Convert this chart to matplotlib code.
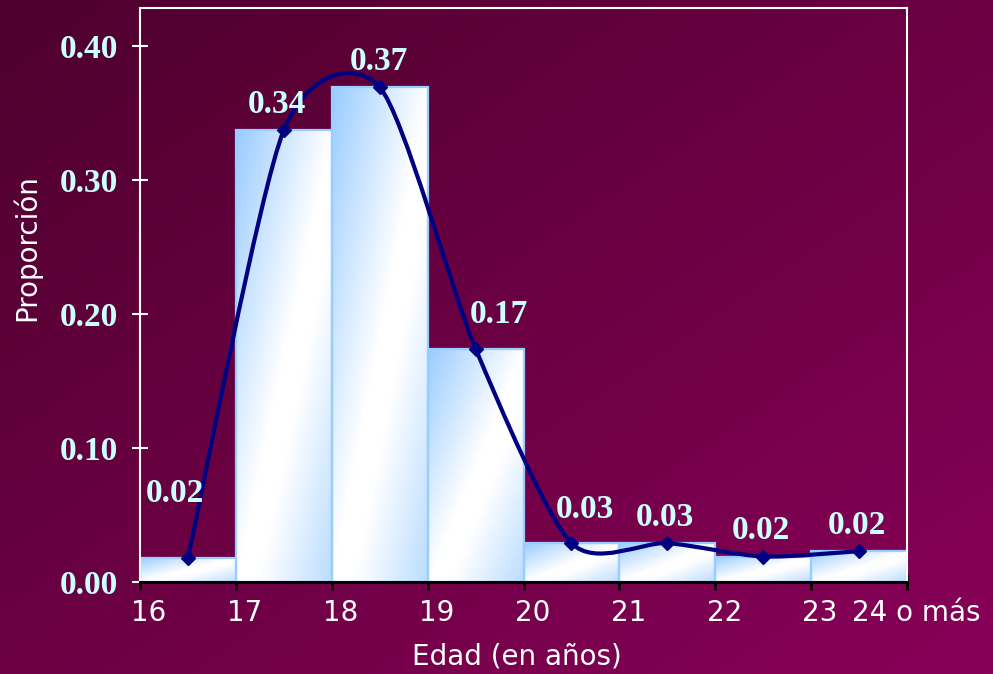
import numpy as np
import matplotlib
matplotlib.use('Agg')
import matplotlib.pyplot as plt
from matplotlib.colors import LinearSegmentedColormap
from matplotlib.path import Path
from matplotlib.patches import PathPatch
from matplotlib import transforms

# datos
edades = [16, 17, 18, 19, 20, 21, 22, 23]
proporcion = [0.018, 0.337, 0.369, 0.174, 0.029, 0.029, 0.019, 0.023]
etiquetas = ['0.02', '0.34', '0.37', '0.17', '0.03', '0.03', '0.02', '0.02']
xticks = [16, 17, 18, 19, 20, 21, 22, 23, 24]
xtick_labels = ['16', '17', '18', '19', '20', '21', '22', '23', '24 o más']
yticks = [0.0, 0.1, 0.2, 0.3, 0.4]

serif = ['Liberation Serif', 'DejaVu Serif']
cian = '#CCFFFF'

fig = plt.figure(figsize=(9.93, 6.74), dpi=100)

# fondo degradado
bg = fig.add_axes([0, 0, 1, 1], zorder=-10)
xx, yy = np.meshgrid(np.linspace(0, 1, 200), np.linspace(0, 1, 200))
t = (xx + yy) / 2
fondo = LinearSegmentedColormap.from_list('fondo', ['#4E002E', '#880058'])
bg.imshow(t, cmap=fondo, aspect='auto', extent=[0, 1, 1, 0])
bg.axis('off')

ax = fig.add_axes([0.141, 0.1365, 0.7724, 0.8516])
ax.set_facecolor('none')

# barras con degradado
barcmap = LinearSegmentedColormap.from_list(
    'barra', [(0, '#99CCFF'), (0.5, '#FFFFFF'), (0.62, '#FFFFFF'), (1, '#BBDDFF')])
u, v = np.meshgrid(np.linspace(0, 1, 100), np.linspace(1, 0, 100))
grad = (u + (1 - v)) / 2
bars = ax.bar(edades, proporcion, width=1, align='edge', facecolor='none',
              edgecolor='#99CCFF', linewidth=1.6, zorder=3)
for b, x0, h in zip(bars, edades, proporcion):
    im = ax.imshow(grad, cmap=barcmap, vmin=0, vmax=1, aspect='auto',
                   extent=[x0, x0 + 1, 0, h], zorder=2, interpolation='bilinear')
    im.set_clip_path(b)
ax.set_xlim(16, 24)
ax.set_ylim(0, 0.428)

# linea suavizada (bezier)
k = 1 / 8
xm = np.array(edades) + 0.5
ym = np.array(proporcion)
pts = np.column_stack([xm, ym])
ext = np.vstack([pts[0], pts, pts[-1]])
verts = [tuple(pts[0])]
codes = [Path.MOVETO]
for i in range(len(pts) - 1):
    p0, p1, p2, p3 = ext[i], ext[i + 1], ext[i + 2], ext[i + 3]
    c1 = p1 + (p2 - p0) * k
    c2 = p2 - (p3 - p1) * k
    verts += [tuple(c1), tuple(c2), tuple(p2)]
    codes += [Path.CURVE4] * 3
ax.add_patch(PathPatch(Path(verts, codes), facecolor='none', edgecolor='#000080',
                       linewidth=3, zorder=5, capstyle='round', joinstyle='round'))
ax.plot(xm, ym, linestyle='none', marker='D', markersize=7, color='#000080', zorder=6)

# etiquetas de datos (desplazamiento en pixeles)
desp = [(-13, 67), (-7, 29), (-1, 29), (23, 37), (13, 37), (-2, 29), (-2, 29), (-2, 29)]
for x, y, s, (dx, dy) in zip(xm, ym, etiquetas, desp):
    ax.annotate(s, (x, y), xytext=(dx * 0.72, (dy - 3) * 0.72), textcoords='offset points',
                ha='center', va='center', fontsize=24, fontweight='bold',
                family=serif, color=cian, zorder=7)

# ejes
for side in ['left', 'top', 'right']:
    ax.spines[side].set_color('white')
    ax.spines[side].set_linewidth(1.5)
ax.spines['bottom'].set_color('black')
ax.spines['bottom'].set_linewidth(2.2)
for sp in ax.spines.values():
    sp.set_zorder(8)

ax.set_yticks(yticks)
ax.set_yticklabels(['%.2f' % y for y in yticks], fontsize=24, fontweight='bold',
                   family=serif, color=cian)
ax.tick_params(axis='y', direction='inout', length=12, width=1.5, color='white', pad=10)

ax.set_xticks(xticks)
ax.set_xticklabels(xtick_labels, fontsize=20, color='white', family='DejaVu Sans')
ax.tick_params(axis='x', direction='inout', length=11, width=2, color='black', pad=7)
off = transforms.ScaledTranslation(9 / 100, 0, fig.dpi_scale_trans)
for lab in ax.get_xticklabels():
    lab.set_transform(lab.get_transform() + off)

fig.text(517 / 993, 1 - 657 / 674, 'Edad (en años)', ha='center', va='center',
         fontsize=20, color='white', family='DejaVu Sans')
fig.text(27 / 993, 1 - 248 / 674, 'Proporción', ha='center', va='center',
         rotation=90, fontsize=20, color='white', family='DejaVu Sans')

fig.savefig('out.png', dpi=100)
